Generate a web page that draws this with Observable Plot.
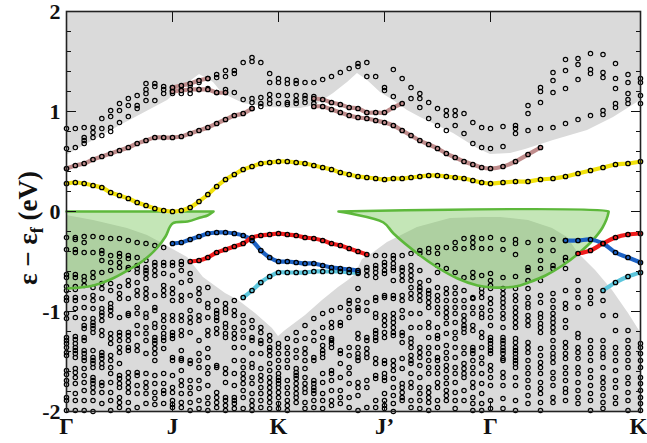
<!DOCTYPE html>
<html><head><meta charset="utf-8">
<script src="https://cdn.jsdelivr.net/npm/d3@7"></script>
<script src="https://cdn.jsdelivr.net/npm/@observablehq/plot@0.6"></script>
<style>
html,body{margin:0;padding:0;background:#fff;}
#chart{width:647px;height:443px;}
</style></head><body><div id="chart"></div>
<script>
// High-symmetry path
const kPath = [0, 1, 2, 3, 4, 5.415];
const kLabels = ["Γ", "J", "K", "J’", "Γ", "K"];
const yTicks = [-2, -1, 0, 1, 2];
const yMinor = d3.range(-10, 11).map(i => i / 5);

// Projected bulk continuum boundaries [x, E]
const upperEdgeX = [0,0.509,0.953,1.142,1.255,1.387,1.472,1.67,1.896,2.208,2.349,2.519,2.651,2.745,2.84,2.962,3.085,3.217,3.34,3.651,3.877,4.0,4.189,4.33,4.594,4.915,5.16,5.415];
const upperEdgeE = [0.56,0.86,1.11,1.28,1.37,1.29,1.18,1.08,1.04,1.03,1.06,1.18,1.29,1.38,1.31,1.19,1.11,1.01,0.94,0.78,0.63,0.57,0.58,0.62,0.71,0.81,0.94,1.11];
const lowerEdgeX = [0,0.255,0.575,0.764,0.887,1.142,1.292,1.5,1.623,1.783,1.943,2.0,2.066,2.255,2.415,2.566,2.66,2.726,2.792,2.887,3.028,3.104,3.311,3.623,3.934,4.094,4.358,4.585,4.726,4.83,4.991,5.151,5.302,5.415];
const lowerEdgeE = [-0.04,-0.09,-0.17,-0.24,-0.31,-0.46,-0.66,-0.82,-0.89,-1.02,-1.17,-1.25,-1.19,-1.04,-0.89,-0.76,-0.69,-0.63,-0.48,-0.42,-0.31,-0.27,-0.16,-0.07,-0.06,-0.06,-0.09,-0.17,-0.26,-0.42,-0.59,-0.79,-1.02,-1.21];

// Green pockets (lower boundary, top at E=0)
const greenLX = [0,0.132,0.255,0.415,0.575,0.726,0.858,0.934,1.0,1.142,1.264,1.33,1.387];
const greenLE = [-0.77,-0.76,-0.74,-0.68,-0.59,-0.49,-0.36,-0.25,-0.12,-0.10,-0.06,-0.04,0];
const greenRX = [2.566,2.679,2.99,3.085,3.311,3.5,3.689,3.877,4.019,4.236,4.358,4.519,4.679,4.83,4.962,5.057,5.113];
const greenRE = [0,-0.02,-0.11,-0.22,-0.42,-0.56,-0.67,-0.74,-0.76,-0.75,-0.71,-0.64,-0.54,-0.42,-0.29,-0.16,-0.01];

// Bands: energies at successive k-points starting at the given column
const yellowE = [0.28,0.29,0.28,0.26,0.24,0.19,0.16,0.13,0.09,0.06,0.03,0.01,0.0,0.01,0.04,0.10,0.17,0.25,0.32,0.37,0.42,0.45,0.48,0.49,0.50,0.50,0.49,0.48,0.46,0.44,0.42,0.39,0.37,0.35,0.34,0.33,0.32,0.33,0.33,0.34,0.35,0.36,0.36,0.35,0.34,0.33,0.31,0.29,0.28,0.29,0.30,0.30,0.32,0.33,0.35,0.38,0.41,0.44,0.47,0.48,0.50];
const brownLowE = [0.43,0.46,0.48,0.52,0.55,0.58,0.61,0.64,0.68,0.71,0.74,0.74,0.74,0.75,0.78,0.81,0.84,0.88,0.92,0.96,0.98,1.03];
const brownJ1E = [1.24,1.26,1.28,1.31,1.33];
const brownJ2E = [1.20,1.21,1.22,1.22,1.22,1.19,1.19];
const brownR1E = [1.13,1.12,1.09,1.07,1.04,1.03,0.99,0.99,0.99,1.04,1.08];
const brownR2E = [1.05,1.05,1.02,0.99,0.96,0.94,0.93,0.91,0.89,0.86,0.81,0.76,0.71,0.67,0.63,0.58,0.54,0.50,0.47,0.44,0.43,0.45,0.50,0.57,0.64];
const blueLE = [-0.32,-0.31,-0.28,-0.25,-0.22,-0.21,-0.21,-0.22,-0.24,-0.29,-0.39,-0.46,-0.50,-0.50,-0.51,-0.52,-0.52,-0.54,-0.56,-0.57,-0.58,-0.59];
const blueRE = [-0.29,-0.29,-0.28,-0.32,-0.41,-0.46,-0.51];
const redLE = [-0.50,-0.49,-0.46,-0.41,-0.38,-0.35,-0.32,-0.26,-0.24,-0.23,-0.22,-0.23,-0.24,-0.26,-0.27,-0.29,-0.32,-0.34,-0.37,-0.40,-0.43];
const redRE = [-0.42,-0.39,-0.32,-0.26,-0.23,-0.22];
const cyanLE = [-0.86,-0.79,-0.71,-0.65,-0.61,-0.61,-0.61,-0.61,-0.60,-0.60,-0.60,-0.60,-0.61,-0.61];
const cyanRE = [-0.79,-0.71,-0.65,-0.61];

// Slab states inside the continua, per k column (0..60)
const upperDots = [
[0.83,0.63],[0.83,0.64],[0.84,0.74,0.71,0.68],[0.84,0.79,0.74],[0.93,0.83,0.76],
[1.01,0.95,0.84,0.80],[1.08,1.01,0.89],[1.13,1.06,0.95],[1.16,1.06,1.03],[1.28,1.22,1.18,1.11],
[1.28,1.25,1.11],[1.25,1.22,1.18],[1.24,1.21,1.18],[1.25,1.22,1.18],[1.26,1.22,1.18],
[1.29,1.22],[1.33,1.23],[1.37,1.34,1.19],[1.41,1.35,1.22,1.19],[1.41,1.38,1.19],
[1.49,1.12],[1.54,1.50,1.13,1.09,1.03],[1.49,1.14,1.08,1.05],[1.38,1.29,1.17,1.12,1.08],[1.33,1.29,1.16,1.08],
[1.32,1.28,1.16,1.09,1.07],[1.31,1.28,1.16,1.11,1.08],[1.29,1.16,1.13,1.09],[1.29,1.15,1.12,1.08],[1.32],
[1.35],[1.39],[1.43],[1.48,1.45],[1.49,1.35],
[1.35],[1.24,1.21],[1.42,1.15],[1.33],[1.24,1.13],
[1.18,1.13,1.04],[1.09,0.93],[1.03,0.86],[1.01,0.96,0.81],[1.01,0.96,0.86],
[0.98,0.78],[0.89,0.68],[0.84,0.64],[0.83,0.63],[0.85,0.65],
[0.86,0.83,0.78],[1.06,0.98,0.81],[1.24,1.20,1.09,0.83],[1.39,1.31,1.19,0.84],[1.52,1.41,1.23,0.88],
[1.53,1.47,1.32,0.92],[1.58,1.42,1.38,0.96],[1.57,1.39,1.34,1.01,0.97],[1.48,1.33,1.23,1.08,1.04],[1.37,1.29,1.18,1.12,1.08],
[1.33,1.29,1.16,1.08]
];
const lowerDots = [
[-0.26,-0.38,-0.63,-0.66,-0.75,-0.79,-0.86,-0.89,-1.02,-1.07,-1.26,-1.29,-1.32,-1.36,-1.41,-1.44,-1.59,-1.63,-1.69,-1.73,-1.86,-1.89,-1.99],
[-0.26,-0.28,-0.38,-0.41,-0.63,-0.66,-0.75,-0.78,-0.86,-0.89,-0.97,-1.06,-1.25,-1.28,-1.32,-1.36,-1.39,-1.42,-1.46,-1.57,-1.61,-1.66,-1.72,-1.82,-1.89,-1.99],
[-0.25,-0.31,-0.41,-0.65,-0.69,-0.74,-0.86,-0.96,-1.07,-1.14,-1.17,-1.26,-1.29,-1.39,-1.42,-1.46,-1.49,-1.57,-1.64,-1.71,-1.79,-1.89,-1.99],
[-0.25,-0.41,-0.61,-0.66,-0.76,-0.84,-0.89,-0.97,-1.07,-1.11,-1.14,-1.17,-1.21,-1.39,-1.46,-1.49,-1.52,-1.56,-1.66,-1.69,-1.72,-1.76,-1.81,-1.89,-2.0],
[-0.26,-0.39,-0.42,-0.49,-0.61,-0.72,-0.77,-0.87,-0.97,-1.01,-1.04,-1.09,-1.19,-1.24,-1.41,-1.44,-1.47,-1.52,-1.56,-1.71,-1.74,-1.81,-1.92],
[-0.27,-0.44,-0.51,-0.59,-0.72,-0.79,-0.92,-0.96,-0.99,-1.04,-1.22,-1.27,-1.32,-1.44,-1.49,-1.56,-1.62,-1.71,-1.81,-1.89,-1.99],
[-0.27,-0.42,-0.45,-0.51,-0.56,-0.75,-0.82,-0.87,-1.06,-1.21,-1.24,-1.29,-1.36,-1.41,-1.52,-1.64,-1.67,-1.72,-1.76,-1.86,-1.91,-1.96],
[-0.29,-0.44,-0.47,-0.56,-0.58,-0.69,-0.74,-0.87,-1.02,-1.04,-1.21,-1.24,-1.29,-1.36,-1.39,-1.61,-1.66,-1.71,-1.76,-1.81,-1.91,-1.99],
[-0.31,-0.46,-0.54,-0.57,-0.61,-0.71,-0.79,-0.84,-0.96,-1.02,-1.14,-1.22,-1.34,-1.39,-1.61,-1.64,-1.74,-1.82,-1.96],
[-0.32,-0.49,-0.56,-0.59,-0.62,-0.67,-0.77,-0.82,-0.87,-1.02,-1.06,-1.16,-1.22,-1.29,-1.42,-1.62,-1.71,-1.76,-1.82,-1.92],
[-0.34,-0.51,-0.54,-0.59,-0.64,-0.84,-0.96,-0.99,-1.12,-1.16,-1.26,-1.29,-1.32,-1.37,-1.42,-1.49,-1.64,-1.72,-1.81,-1.87,-1.93],
[-0.36,-0.51,-0.54,-0.62,-0.74,-0.79,-0.84,-1.04,-1.09,-1.16,-1.22,-1.26,-1.29,-1.37,-1.62,-1.72,-1.79,-1.82,-1.92],
[-0.51,-0.54,-0.64,-0.77,-0.82,-0.89,-1.04,-1.09,-1.21,-1.24,-1.27,-1.46,-1.49,-1.64,-1.76,-1.81,-1.89,-1.93,-1.96],
[-0.5,-0.53,-0.59,-0.71,-0.84,-0.89,-1.04,-1.09,-1.19,-1.24,-1.39,-1.47,-1.49,-1.59,-1.69,-1.74,-1.82,-1.91,-1.96],
[-0.62,-0.69,-0.84,-0.99,-1.06,-1.11,-1.21,-1.49,-1.52,-1.69,-1.76,-1.82,-1.91,-1.99],
[-0.77,-0.82,-0.89,-1.04,-1.09,-1.29,-1.42,-1.49,-1.56,-1.69,-1.77,-1.89,-1.97],
[-0.76,-0.92,-0.96,-1.06,-1.19,-1.24,-1.37,-1.46,-1.56,-1.62,-1.74,-1.86,-1.92,-1.99],
[-0.89,-0.99,-1.02,-1.06,-1.09,-1.17,-1.22,-1.54,-1.56,-1.81,-1.86,-1.91,-1.96],
[-0.92,-0.97,-1.01,-1.12,-1.16,-1.22,-1.26,-1.57,-1.62,-1.71,-1.86,-1.89,-1.94,-1.99],
[-0.89,-0.99,-1.04,-1.16,-1.22,-1.27,-1.36,-1.49,-1.62,-1.74,-1.86,-1.89,-1.92,-1.97],
[-1.04,-1.11,-1.19,-1.26,-1.36,-1.49,-1.56,-1.62,-1.67,-1.72,-1.79,-1.86,-1.97],
[-1.09,-1.16,-1.26,-1.29,-1.42,-1.52,-1.56,-1.66,-1.72,-1.82,-1.89,-1.94,-1.99],
[-1.16,-1.21,-1.29,-1.32,-1.42,-1.57,-1.64,-1.69,-1.76,-1.82,-1.89,-1.96],
[-1.24,-1.29,-1.36,-1.39,-1.44,-1.52,-1.59,-1.66,-1.71,-1.76,-1.81,-1.86,-1.91,-1.97],
[-1.32,-1.36,-1.42,-1.49,-1.56,-1.62,-1.66,-1.69,-1.72,-1.76,-1.81,-1.86,-1.92,-1.97],
[-1.27,-1.36,-1.42,-1.49,-1.56,-1.69,-1.76,-1.82,-1.89,-1.94,-1.99],
[-1.21,-1.29,-1.39,-1.46,-1.57,-1.61,-1.64,-1.67,-1.72,-1.77,-1.82,-1.86,-1.91],
[-1.14,-1.27,-1.37,-1.42,-1.49,-1.57,-1.66,-1.72,-1.77,-1.81,-1.91,-1.97],
[-1.07,-1.21,-1.29,-1.46,-1.49,-1.69,-1.72,-1.76,-1.79,-1.82,-1.89,-1.96],
[-1.02,-1.16,-1.26,-1.34,-1.39,-1.42,-1.46,-1.62,-1.71,-1.82,-1.89,-1.97],
[-0.99,-1.11,-1.16,-1.27,-1.29,-1.32,-1.36,-1.59,-1.62,-1.69,-1.79,-1.89,-1.94],
[-0.96,-1.11,-1.14,-1.39,-1.42,-1.52,-1.66,-1.79,-1.86,-1.92],
[-0.89,-0.92,-0.99,-1.06,-1.36,-1.44,-1.56,-1.62,-1.72,-1.86,-1.96],
[-0.62,-0.77,-0.89,-0.96,-0.99,-1.22,-1.27,-1.36,-1.42,-1.46,-1.49,-1.71,-1.76,-1.84,-1.99],
[-0.56,-0.59,-0.64,-0.91,-0.99,-1.26,-1.29,-1.37,-1.42,-1.46,-1.69,-1.76,-1.96],
[-0.44,-0.54,-0.57,-0.61,-0.66,-0.86,-0.89,-1.02,-1.06,-1.19,-1.22,-1.26,-1.29,-1.47,-1.52,-1.64,-1.67,-1.89,-1.96],
[-0.44,-0.51,-0.54,-0.59,-0.62,-0.84,-0.86,-1.04,-1.09,-1.14,-1.21,-1.26,-1.49,-1.52,-1.62,-1.66,-1.69,-1.82,-1.89,-1.94,-1.97],
[-0.44,-0.47,-0.52,-0.56,-0.59,-0.69,-0.84,-0.87,-1.02,-1.07,-1.11,-1.16,-1.21,-1.24,-1.49,-1.54,-1.59,-1.67,-1.76,-1.84,-1.92,-2.0],
[-0.44,-0.56,-0.59,-0.64,-0.69,-0.84,-0.89,-0.99,-1.06,-1.21,-1.24,-1.31,-1.47,-1.57,-1.72,-1.76,-1.81,-1.86,-1.89],
[-0.42,-0.54,-0.59,-0.64,-0.69,-0.76,-0.82,-0.87,-1.02,-1.16,-1.27,-1.31,-1.36,-1.44,-1.49,-1.52,-1.62,-1.71,-1.76,-1.89,-1.96],
[-0.39,-0.42,-0.59,-0.71,-0.76,-0.79,-0.84,-0.89,-1.02,-1.16,-1.36,-1.41,-1.46,-1.54,-1.66,-1.76,-1.82,-1.89,-1.97],
[-0.37,-0.41,-0.69,-0.79,-0.82,-0.86,-0.91,-0.96,-1.11,-1.16,-1.26,-1.36,-1.42,-1.49,-1.56,-1.62,-1.76,-1.81,-1.86,-1.91,-1.99],
[-0.36,-0.42,-0.54,-0.61,-0.76,-0.84,-0.89,-0.96,-1.02,-1.16,-1.24,-1.27,-1.36,-1.46,-1.49,-1.56,-1.62,-1.71,-1.76,-1.89,-1.96],
[-0.36,-0.57,-0.77,-0.82,-0.89,-0.96,-1.01,-1.06,-1.12,-1.22,-1.34,-1.41,-1.47,-1.54,-1.59,-1.66,-1.72,-1.79,-1.84,-1.89],
[-0.31,-0.37,-0.61,-0.76,-0.82,-0.89,-0.96,-1.02,-1.11,-1.21,-1.27,-1.36,-1.46,-1.56,-1.62,-1.71,-1.81,-1.89,-1.97],
[-0.27,-0.37,-0.66,-0.79,-0.89,-0.96,-1.04,-1.09,-1.14,-1.17,-1.21,-1.36,-1.42,-1.52,-1.57,-1.62,-1.66,-1.79,-1.89],
[-0.26,-0.31,-0.36,-0.61,-0.66,-0.86,-0.87,-0.96,-1.02,-1.14,-1.19,-1.36,-1.39,-1.42,-1.49,-1.56,-1.62,-1.71,-1.76,-1.86,-1.92,-1.99],
[-0.27,-0.37,-0.64,-0.77,-0.81,-0.86,-0.96,-1.02,-1.06,-1.21,-1.26,-1.36,-1.46,-1.52,-1.62,-1.72,-1.82,-1.92,-1.99],
[-0.26,-0.37,-0.62,-0.69,-0.74,-0.77,-0.87,-0.92,-0.99,-1.06,-1.14,-1.26,-1.29,-1.32,-1.36,-1.39,-1.42,-1.54,-1.59,-1.66,-1.74,-1.89,-1.97],
[-0.28,-0.38,-0.66,-0.77,-0.82,-0.87,-0.91,-0.96,-1.02,-1.07,-1.16,-1.26,-1.29,-1.32,-1.36,-1.39,-1.42,-1.47,-1.49,-1.61,-1.66,-1.74,-1.87,-1.97],
[-0.28,-0.32,-0.43,-0.65,-0.77,-0.84,-0.89,-0.96,-1.01,-1.06,-1.11,-1.16,-1.27,-1.31,-1.36,-1.39,-1.42,-1.46,-1.49,-1.52,-1.56,-1.66,-1.74,-1.89,-1.99],
[-0.31,-0.56,-0.59,-0.69,-0.77,-0.86,-0.92,-0.96,-1.04,-1.09,-1.14,-1.31,-1.36,-1.41,-1.49,-1.56,-1.62,-1.69,-1.76,-1.84,-1.92],
[-0.29,-0.39,-0.49,-0.57,-0.69,-0.84,-0.91,-1.02,-1.06,-1.12,-1.16,-1.21,-1.37,-1.44,-1.51,-1.56,-1.62,-1.71,-1.77,-1.82,-1.91,-1.99],
[-0.28,-0.39,-0.54,-0.57,-0.82,-0.89,-0.96,-1.02,-1.07,-1.11,-1.16,-1.21,-1.29,-1.36,-1.42,-1.46,-1.51,-1.61,-1.67,-1.74,-1.86,-1.91],
[-0.29,-0.46,-0.49,-0.57,-0.79,-0.92,-0.97,-1.09,-1.16,-1.31,-1.36,-1.42,-1.47,-1.56,-1.62,-1.69,-1.77,-1.81,-1.89],
[-0.69,-0.79,-0.86,-0.96,-1.22,-1.26,-1.36,-1.41,-1.47,-1.56,-1.62,-1.71,-1.79,-1.86,-1.92],
[-0.79,-0.86,-0.92,-1.29,-1.36,-1.42,-1.49,-1.59,-1.66,-1.74,-1.82,-1.89,-1.99],
[-0.89,-1.04,-1.29,-1.36,-1.42,-1.46,-1.56,-1.66,-1.71,-1.77,-1.84,-1.91,-1.97],
[-1.04,-1.19,-1.36,-1.42,-1.49,-1.59,-1.69,-1.76,-1.86,-1.92],
[-1.19,-1.29,-1.36,-1.42,-1.49,-1.56,-1.66,-1.72,-1.81,-1.89,-1.99],
[-1.32,-1.36,-1.42,-1.49,-1.56,-1.66,-1.72,-1.79,-1.86,-1.92,-1.99]
];

// ---- build tables ----
const colX = k => { const s = Math.min(4, Math.floor(k / 12)); return kPath[s] + (k - 12 * s) / 12 * (kPath[s + 1] - kPath[s]); };
const zipXY = (xs, ys) => xs.map((x, i) => ({x, y: ys[i]}));
const band = (E, start) => E.map((e, i) => ({x: colX(start + i), y: e}));
const colDots = cols => cols.flatMap((col, k) => col.map(e => ({x: colX(k), y: e})));

const upperEdge = zipXY(upperEdgeX, upperEdgeE);
const lowerEdge = zipXY(lowerEdgeX, lowerEdgeE);
const greenL = zipXY(greenLX, greenLE);
const greenR = zipXY(greenRX, greenRE);
const outlineL = [{x: greenLX[0], y: 0}, {x: greenLX[greenLX.length - 1], y: 0}, ...greenL.slice().reverse()];
const outlineR = [{x: greenRX[0], y: 0}, {x: greenRX[greenRX.length - 1], y: 0}, ...greenR.slice().reverse()];

const bands = [
  {d: band(yellowE, 0), c: "#f2e20c"},
  {d: band(brownLowE, 0), c: "#bf8c8c"},
  {d: band(brownJ1E, 12), c: "#bf8c8c"},
  {d: band(brownJ2E, 12), c: "#bf8c8c"},
  {d: band(brownR1E, 28), c: "#bf8c8c"},
  {d: band(brownR2E, 28), c: "#bf8c8c"},
  {d: band(cyanLE, 20), c: "#5cc6dc"},
  {d: band(cyanRE, 57), c: "#5cc6dc"},
  {d: band(blueLE, 12), c: "#1d62c4"},
  {d: band(blueRE, 54), c: "#1d62c4"},
  {d: band(redLE, 14), c: "#f01c1c"},
  {d: band(redRE, 55), c: "#f01c1c"}
];
const slabDots = [...colDots(upperDots), ...colDots(lowerDots)];
const bandDots = bands.flatMap(b => b.d);
const lastTick = kPath[kPath.length - 1];

const font = "'Liberation Serif','Times New Roman',serif";
const green = "#5db83b";

const marks = [
  Plot.areaY(upperEdge, {x: "x", y1: "y", y2: 2, fill: "#dadada"}),
  Plot.areaY(lowerEdge, {x: "x", y1: -2, y2: "y", fill: "#dadada"}),
  Plot.areaY(greenL, {x: "x", y1: "y", y2: 0, fill: "#6cc04a", fillOpacity: 0.4, curve: "catmull-rom"}),
  Plot.areaY(greenR, {x: "x", y1: "y", y2: 0, fill: "#6cc04a", fillOpacity: 0.4, curve: "catmull-rom"}),
  Plot.dot(slabDots, {x: "x", y: "y", r: 2.2, stroke: "#000", strokeWidth: 1.15, fill: "none"}),
  Plot.line(outlineL, {x: "x", y: "y", stroke: green, strokeWidth: 2.6, curve: "catmull-rom"}),
  Plot.line(outlineR, {x: "x", y: "y", stroke: green, strokeWidth: 2.6, curve: "catmull-rom"}),
  ...bands.map(b => Plot.line(b.d, {x: "x", y: "y", stroke: b.c, strokeWidth: 4.2, curve: "catmull-rom"})),
  Plot.dot(bandDots, {x: "x", y: "y", r: 2.2, stroke: "#000", strokeWidth: 1.3, fill: "none"}),
  // inward ticks
  Plot.axisY({anchor: "left", ticks: yMinor, tickSize: -5, tickFormat: () => "", label: null}),
  Plot.axisY({anchor: "left", ticks: yTicks, tickSize: -10, tickFormat: () => "", label: null}),
  Plot.axisY({anchor: "right", ticks: yMinor, tickSize: -5, tickFormat: () => "", label: null}),
  Plot.axisY({anchor: "right", ticks: yTicks, tickSize: -10, tickFormat: () => "", label: null}),
  Plot.axisY({anchor: "left", ticks: yTicks, tickSize: 0, tickPadding: 6, tickFormat: d => String(d), fontSize: 22, fontWeight: "bold", label: null}),
  Plot.axisX({anchor: "top", ticks: kPath, tickSize: -10, tickFormat: () => "", label: null}),
  Plot.axisX({anchor: "bottom", ticks: kPath, tickSize: -10, tickFormat: () => "", label: null}),
  Plot.axisX({anchor: "bottom", ticks: kPath.slice(0, -1), tickSize: 0, tickPadding: 6, tickFormat: d => kLabels[kPath.indexOf(d)], fontSize: 23, fontWeight: "bold", label: null}),
  Plot.axisX({anchor: "bottom", ticks: [lastTick], tickSize: 0, tickPadding: 6, dx: -2, tickFormat: d => kLabels[kPath.indexOf(d)], fontSize: 23, fontWeight: "bold", label: null}),
  Plot.frame({stroke: "#222", strokeWidth: 1.6})
];

const chart = Plot.plot({
  width: 647, height: 443,
  marginLeft: 66, marginRight: 7, marginTop: 11, marginBottom: 32,
  x: {domain: [0, lastTick]},
  y: {domain: [-2, 2]},
  style: {fontFamily: font, background: "white", overflow: "visible", color: "#111"},
  marks
});
document.getElementById("chart").appendChild(chart);

// Y-axis title with subscript
const svg = d3.select(chart);
const t = svg.append("text")
  .attr("transform", "translate(37,228) rotate(-90)")
  .attr("text-anchor", "middle")
  .attr("font-family", font).attr("font-weight", "bold").attr("font-size", 27).attr("fill", "#111");
t.append("tspan").text("ε − ε");
t.append("tspan").attr("font-size", 18).attr("dy", 6).text("f");
t.append("tspan").attr("dy", -6).text(" (eV)");
</script></body></html>
